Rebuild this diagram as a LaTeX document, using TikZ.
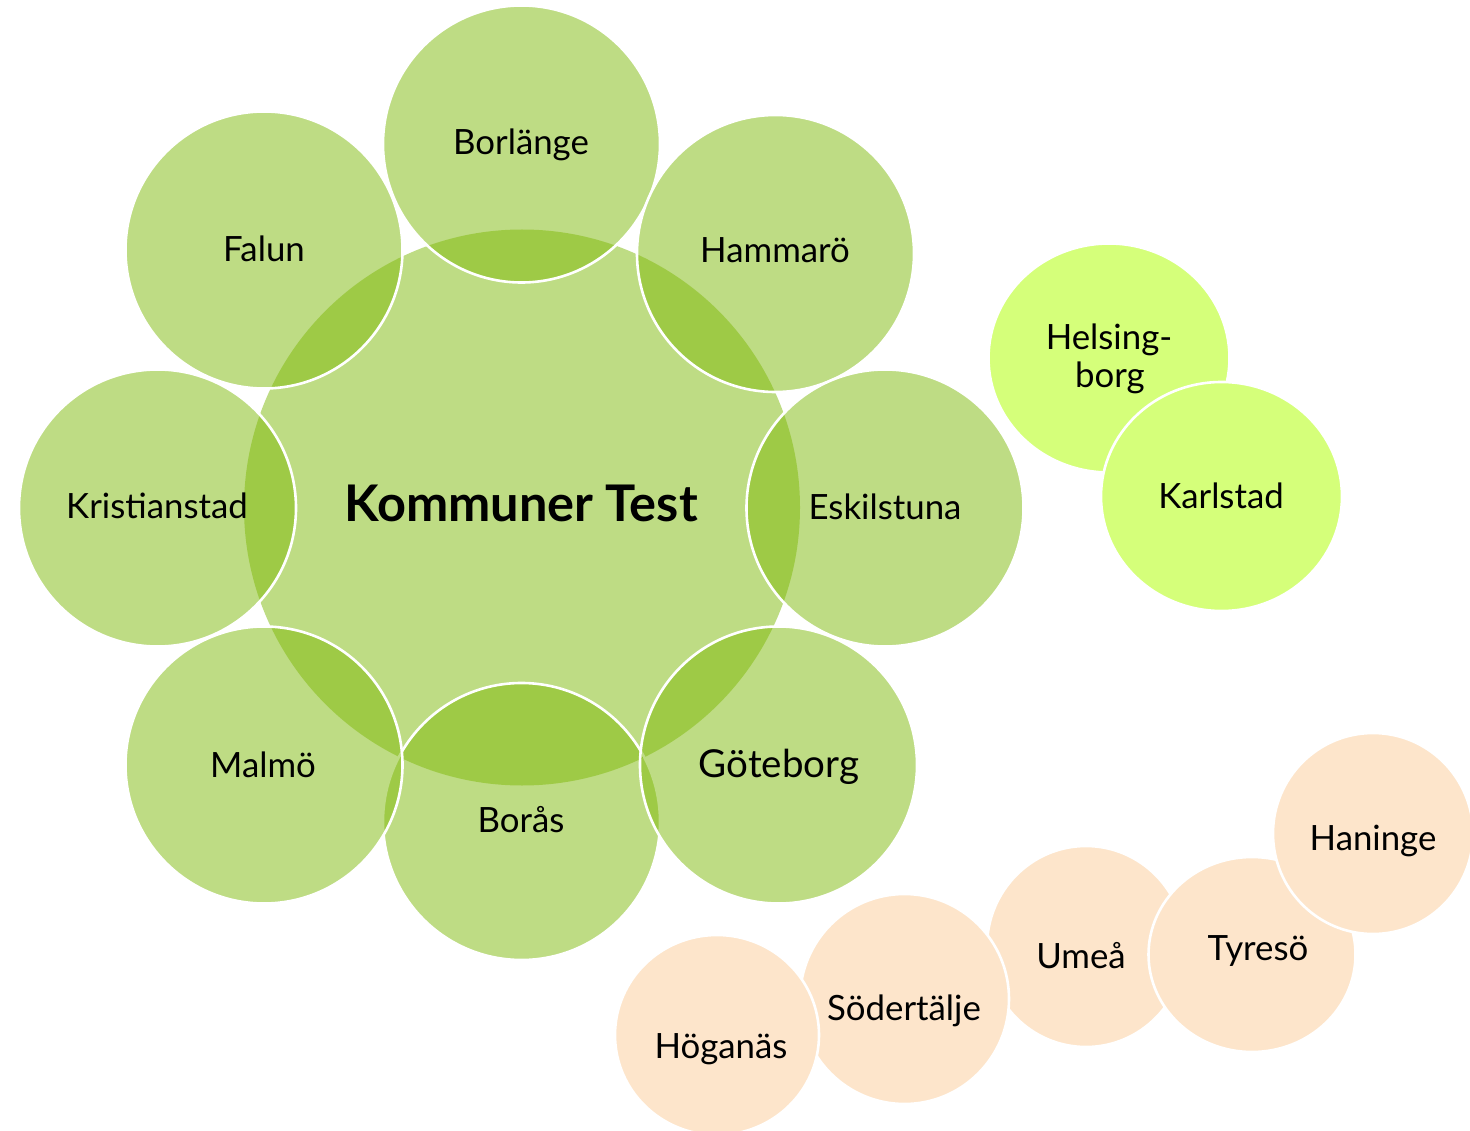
\documentclass[tikz,border=0pt]{standalone}
\usepackage{fontspec}
\setmainfont{Lato}
\usetikzlibrary{shapes.geometric}
\definecolor{gbase}{RGB}{127,186,10}
\definecolor{lime}{RGB}{213,255,122}
\definecolor{peach}{RGB}{253,229,203}
\begin{document}
\begin{tikzpicture}[x=1pt,y=-1pt,
  gcirc/.style={circle, inner sep=0pt, minimum size=277pt, fill=gbase, fill opacity=0.5, draw=white, draw opacity=1, line width=2.6pt},
  hub/.style={circle, inner sep=0pt, minimum size=556pt, fill=gbase, fill opacity=0.5},
  limeov/.style={ellipse, inner sep=0pt, minimum width=241pt, minimum height=229pt, fill=lime, draw=white, line width=2.6pt},
  peachov/.style={ellipse, inner sep=0pt, fill=peach, draw=white, line width=2.6pt},
  lbl/.style={anchor=base, inner sep=0pt, text=black, font=\fontsize{34.8}{40}\selectfont},
  biglbl/.style={lbl, font=\fontsize{38.5}{43}\selectfont},
  hublbl/.style={anchor=base, inner sep=0pt, text=black, font=\bfseries\fontsize{50.5}{56}\selectfont}]
\fill[white] (0,0) rectangle (1470,1131);
\useasboundingbox (0,0) rectangle (1470,1131);
% central hub
\node[hub] (hub) at (522,507.5) {};
% satellites
\node[gcirc] (boras) at (521.5,821.5) {};
\node[gcirc] (borl)  at (521.5,144) {};
\node[gcirc] (hamm)  at (775.5,253.5) {};
\node[gcirc] (eski)  at (885,508) {};
\node[gcirc] (gote)  at (778.5,765) {};
\node[gcirc] (malmo) at (264,765) {};
\node[gcirc] (krist) at (157.5,508) {};
\node[gcirc] (falun) at (264,250) {};
% lime pair
\node[limeov] (hels) at (1109,358) {};
\node[limeov] (karl) at (1221.5,496.5) {};
% peach chain
\node[peachov, minimum width=198pt, minimum height=201pt] (umea) at (1086,946.5) {};
\node[peachov, minimum width=207pt, minimum height=195pt] (tyre) at (1252,954.5) {};
\node[peachov, minimum width=200pt, minimum height=201pt] (hani) at (1373,833.5) {};
\node[peachov, minimum width=209pt, minimum height=210pt] (sodt) at (904.5,999) {};
\node[peachov, minimum width=204pt, minimum height=200pt] (hoga) at (717,1035) {};
% labels
\node[hublbl] (thub) at (521,521) {Kommuner Test};
\node[lbl] (tborl) at (521,155) {Borlänge};
\node[lbl] (tfalun) at (264,262) {Falun};
\node[lbl] (thamm) at (775,263) {Hammarö};
\node[lbl] (tkrist) at (157,518) {Kristianstad};
\node[lbl] (teski) at (885,519) {Eskilstuna};
\node[lbl] (tmalmo) at (263,777) {Malmö};
\node[biglbl] (tgote) at (779,777) {Göteborg};
\node[lbl] (tboras) at (521,832) {Borås};
\node[lbl] (thels1) at (1109,350) {Helsing-};
\node[lbl] (thels2) at (1110,388) {borg};
\node[lbl] (tkarl) at (1221,508) {Karlstad};
\node[lbl] (thani) at (1373,850) {Haninge};
\node[lbl] (ttyre) at (1258,960) {Tyresö};
\node[lbl] (tumea) at (1081,968) {Umeå};
\node[lbl] (tsodt) at (904,1020) {Södertälje};
\node[lbl] (thoga) at (721,1058) {Höganäs};
\end{tikzpicture}
\end{document}
